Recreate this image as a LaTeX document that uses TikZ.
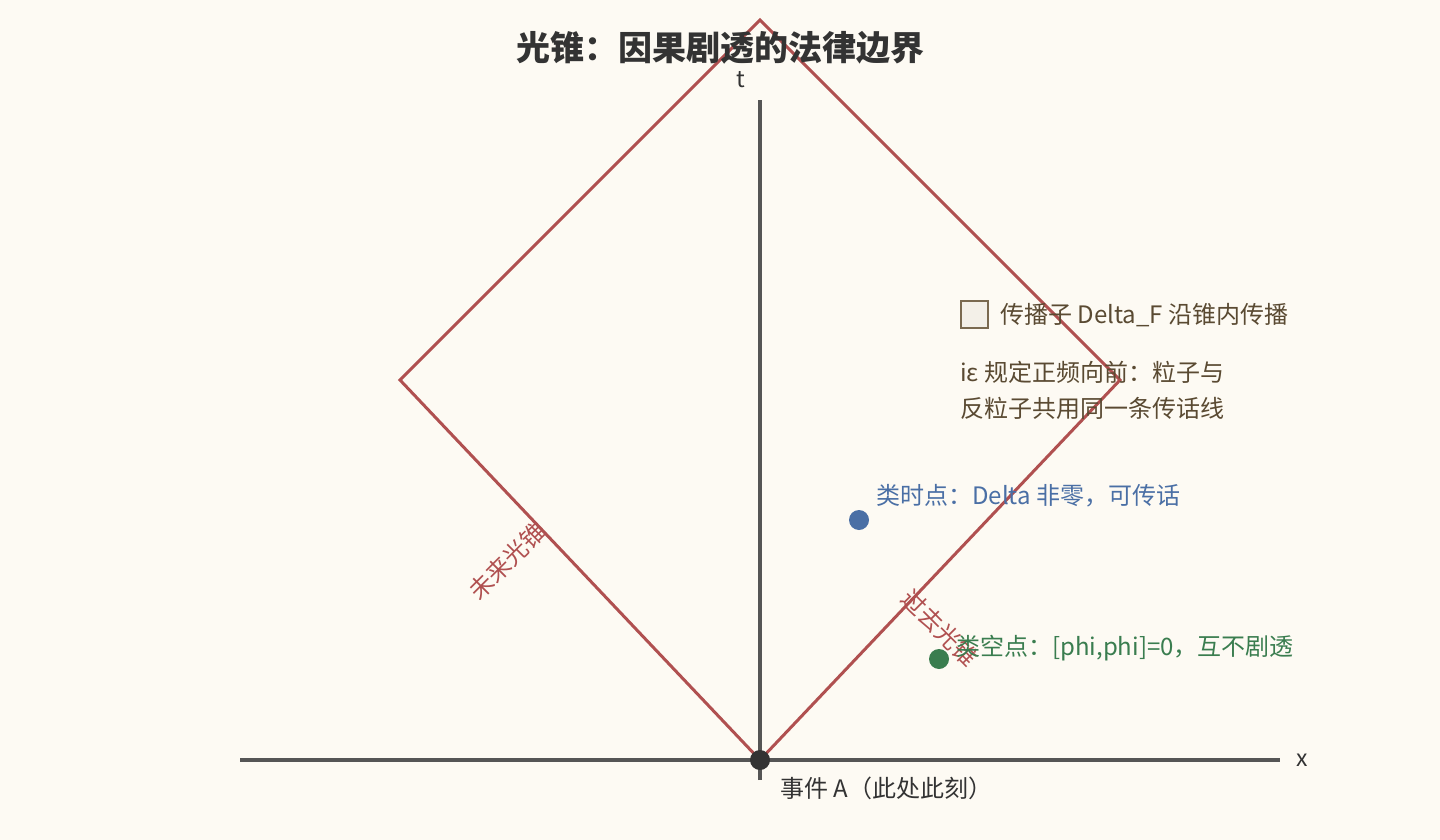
\documentclass[tikz,border=0pt]{standalone}
\usepackage{fontspec}
\setmainfont{Noto Sans CJK SC}
\begin{document}
\begin{tikzpicture}[x=1pt,y=-1pt,
  axis/.style={draw=axisgray,line width=3.2pt},
  cone/.style={draw=conered,line width=3pt,line join=miter},
  lbl/.style={font=\fontsize{24}{28}\selectfont,inner sep=0pt,anchor=west},
  conelbl/.style={font=\fontsize{24}{28}\selectfont,text=conered,inner sep=0pt},
  dot/.style={circle,inner sep=0pt,minimum size=20pt}]
\definecolor{bg}{HTML}{FDFAF3}
\definecolor{axisgray}{HTML}{555555}
\definecolor{conered}{HTML}{B05050}
\definecolor{dark}{HTML}{333333}
\definecolor{brown}{HTML}{5A4A32}
\definecolor{legfill}{HTML}{F3F0E8}
\definecolor{legdraw}{HTML}{7A6A50}
\definecolor{blue}{HTML}{4A6FA5}
\definecolor{green}{HTML}{3A7D4F}
\useasboundingbox (0,0) rectangle (1440,840);
\fill[bg] (0,0) rectangle (1440,840);
% axes
\coordinate (xl) at (240,760);
\coordinate (xr) at (1280,760);
\coordinate (tb) at (760,780);
\coordinate (tt) at (760,100);
\draw[axis] (xl) -- (xr);
\draw[axis] (tb) -- (tt);
\node[font=\fontsize{23}{26}\selectfont,text=dark] (tlab) at (741,80) {t};
\node[font=\fontsize{23}{26}\selectfont,text=dark] (xlab) at (1302,760) {x};
% cone
\coordinate (cb) at (760,760);
\coordinate (cl) at (400,380);
\coordinate (ct) at (760,20);
\coordinate (cr) at (1120,380);
\draw[cone] (cb) -- (cl) -- (ct) -- (cr) -- cycle;
% title
\node[font=\fontsize{34}{40}\selectfont\bfseries,text=dark] (title) at (720,48) {光锥：因果剧透的法律边界};
% cone labels
\node[conelbl,rotate=45] (future) at (507,561) {未来光锥};
\node[conelbl,rotate=-45] (past) at (940,628) {过去光锥};
% legend
\node[draw=legdraw,fill=legfill,line width=2pt,minimum size=27pt,inner sep=0pt] (legbox) at (974,314) {};
\node[lbl,text=brown] (legtxt) at (1000,315) {传播子 Delta\_F 沿锥内传播};
\node[lbl,text=brown] (note1) at (960,372) {iε 规定正频向前：粒子与};
\node[lbl,text=brown] (note2) at (960,408) {反粒子共用同一条传话线};
% points
\node[dot,fill=blue] (tp) at (859,520) {};
\node[lbl,text=blue] (tplab) at (876,496) {类时点：Delta 非零，可传话};
\node[dot,fill=green] (sp) at (939,659) {};
\node[lbl,text=green] (splab) at (956,648) {类空点：[phi,phi]=0，互不剧透};
\node[dot,fill=dark] (ev) at (760,760) {};
\node[lbl,text=dark] (evlab) at (780,788) {事件 A（此处此刻）};
\end{tikzpicture}
\end{document}
